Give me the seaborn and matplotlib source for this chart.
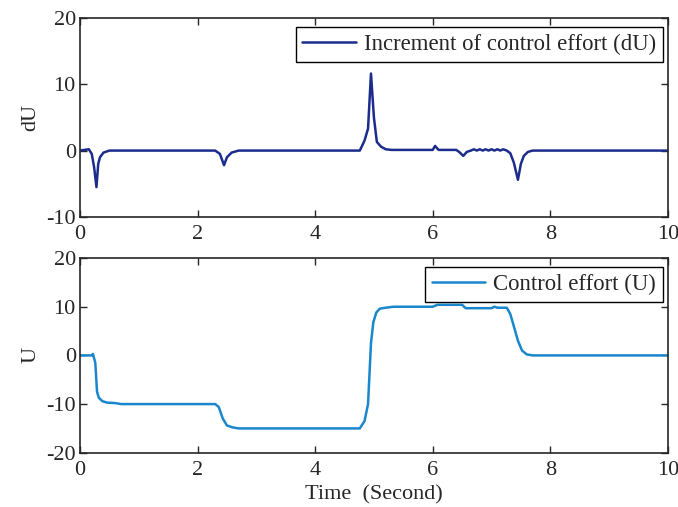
import numpy as np
import pandas as pd
import matplotlib
matplotlib.use("Agg")
import matplotlib.pyplot as plt
import seaborn as sns

# increment of control effort dU
t_du = [0.0, 0.15, 0.2, 0.24, 0.28, 0.31, 0.34, 0.4, 0.5, 2.3, 2.38, 2.45, 2.5, 2.58, 2.7,
        4.76, 4.84, 4.9, 4.95, 5.0, 5.05, 5.12, 5.2, 5.3, 6.0, 6.04, 6.1, 6.4, 6.45, 6.52,
        6.58, 6.65, 6.7, 6.75, 6.8, 6.85, 6.9, 6.95, 7.0, 7.05, 7.1, 7.15, 7.2, 7.26,
        7.32, 7.38, 7.45, 7.5, 7.55, 7.62, 7.7, 10.0]
du = [0.0, 0.2, -0.5, -2.5, -5.5, -2.0, -1.0, -0.3, 0.0, 0.0, -0.5, -2.2, -1.0, -0.3, 0.0,
      0.0, 1.5, 3.3, 11.6, 5.0, 1.3, 0.6, 0.2, 0.1, 0.1, 0.7, 0.1, 0.1, -0.2, -0.8,
      -0.2, 0.0, 0.2, 0.0, 0.2, 0.0, 0.2, 0.0, 0.2, 0.0, 0.2, 0.0, 0.2, 0.0,
      -0.4, -1.8, -4.4, -2.0, -0.8, -0.2, 0.0, 0.0]

# control effort U
t_u = [0.0, 0.2, 0.22, 0.26, 0.29, 0.32, 0.38, 0.46, 0.6, 0.7, 2.3, 2.36, 2.43, 2.5, 2.6,
       2.7, 4.76, 4.84, 4.9, 4.95, 4.99, 5.04, 5.1, 5.2, 5.33, 6.0, 6.08, 6.5, 6.56, 7.0,
       7.05, 7.1, 7.26, 7.32, 7.38, 7.45, 7.52, 7.6, 7.7, 10.0]
u = [0.0, 0.0, 0.3, -1.5, -7.5, -8.7, -9.4, -9.7, -9.8, -10.0, -10.0, -10.6, -13.0, -14.4, -14.8,
     -15.0, -15.0, -13.5, -10.0, 2.5, 6.8, 8.8, 9.6, 9.8, 10.0, 10.0, 10.4, 10.4, 9.7, 9.7,
     10.0, 9.8, 9.8, 8.5, 6.0, 3.0, 1.0, 0.2, 0.0, 0.0]

df_du = pd.DataFrame({"t": t_du, "v": du})
df_u = pd.DataFrame({"t": t_u, "v": u})

sns.set_style("ticks")
plt.rcParams["font.family"] = ["Liberation Serif", "DejaVu Serif"]
plt.rcParams["font.size"] = 16
plt.rcParams["axes.unicode_minus"] = False

fig = plt.figure(figsize=(6.78, 5.07), dpi=100)
ax1 = fig.add_axes([0.118, 0.572, 0.867, 0.393])
ax2 = fig.add_axes([0.118, 0.107, 0.867, 0.384])

sns.lineplot(data=df_du, x="t", y="v", ax=ax1, color="#1c2c8c", linewidth=1.8,
             label="Increment of control effort (dU)")
sns.lineplot(data=df_u, x="t", y="v", ax=ax2, color="#1a86cc", linewidth=1.8,
             label="Control effort (U)")

for ax, lim, tks in [(ax1, (-10, 20), [-10, 0, 10, 20]), (ax2, (-20, 20), [-20, -10, 0, 10, 20])]:
    ax.set_xlim(0, 10)
    ax.set_ylim(*lim)
    ax.set_xticks([0, 2, 4, 6, 8, 10])
    ax.set_yticks(tks)
    ax.tick_params(direction="in", top=True, right=True, length=5, width=1, labelsize=16, pad=3)
    ax.tick_params(axis="x", pad=6)
    for s in ax.spines.values():
        s.set_linewidth(1.2)
    h = ax.get_window_extent().height
    leg = ax.legend(loc="upper right", bbox_to_anchor=(1 - 5 / 588, 1 - 9 / h),
                    fancybox=False, edgecolor="black", framealpha=1,
                    prop={"size": 16.4}, handlelength=2.35, handletextpad=0.35,
                    borderpad=0.3, borderaxespad=0)
    leg.get_frame().set_linewidth(1.0)

ax1.set_xlabel("")
ax1.set_ylabel("dU", fontsize=16)
ax2.set_xlabel("Time  (Second)", fontsize=16, labelpad=4)
ax2.set_ylabel("U", fontsize=16)

fig.savefig("out.png", dpi=100)
